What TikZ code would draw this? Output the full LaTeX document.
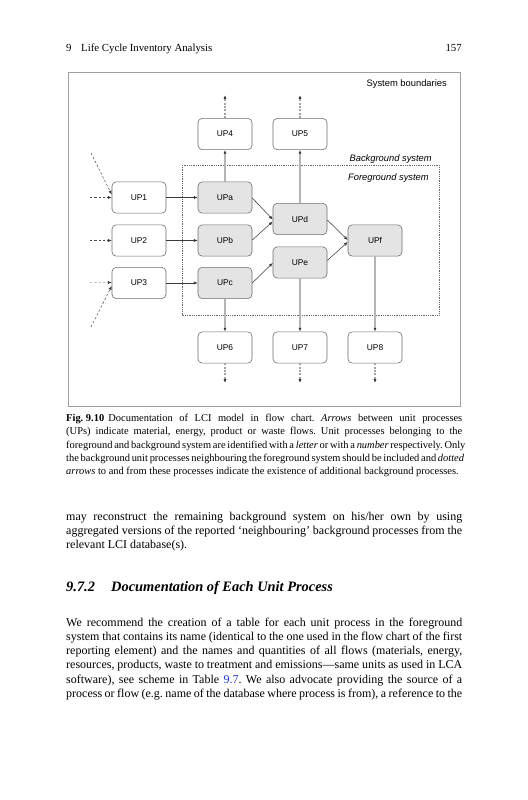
\documentclass[tikz,border=0pt]{standalone}
\usepackage{fontspec}
\setmainfont{Liberation Serif}
\newfontfamily\dsans{Liberation Sans}
\usetikzlibrary{arrows.meta,calc}
\definecolor{frameg}{HTML}{A0A0A0}
\definecolor{boxline}{HTML}{6E6E6E}
\definecolor{fgfill}{HTML}{E4E4E4}
\definecolor{arrdark}{HTML}{3A3A3A}
\definecolor{vgray}{HTML}{B5B5B5}
\definecolor{linkblue}{RGB}{30,50,230}
\tikzset{
  ubox/.style={draw=boxline, line width=0.5pt, rounded corners=3.5pt, fill=white,
    minimum width=45pt, minimum height=26pt, inner sep=0pt,
    font=\dsans\fontsize{7}{8}\selectfont, text=black},
  fgbox/.style={ubox, fill=fgfill},
  tipd/.style={-{Latex[length=3.2pt,width=2.6pt,color=arrdark]}},
  flow/.style={tipd, draw=arrdark, line width=0.45pt},
  vline/.style={tipd, draw=vgray, line width=1pt},
  dotarr/.style={tipd, draw=vgray!90!black, line width=0.9pt, dash pattern=on 1.6pt off 1.2pt},
  ldash/.style={tipd, draw=black!70, line width=0.4pt, dash pattern=on 2pt off 1.6pt},
  lbl/.style={font=\dsans\fontsize{7.8}{9}\selectfont, inner sep=0pt, text=black},
  txt/.style={anchor=base west, inner sep=0pt},
}
\newcommand{\jline}[1]{\makebox[330pt][s]{#1}}
\begin{document}
\frenchspacing
\begin{tikzpicture}[x=0.8333pt,y=-0.8333pt]
\useasboundingbox (0,0) rectangle (527,800);
\fill[white] (0,0) rectangle (527,800);

% header
\node[txt, font=\fontsize{9}{11}\selectfont] (h9) at (66,51) {9};
\node[txt, font=\fontsize{9}{11}\selectfont] (htitle) at (81,51) {Life Cycle Inventory Analysis};
\node[anchor=base east, inner sep=0pt, font=\fontsize{9}{11}\selectfont] (hpage) at (462,51) {157};

% frame
\draw[frameg, line width=0.8pt] (68,72) rectangle (460,406);
\node[lbl, anchor=east] (sysb) at (447,84) {System boundaries};
\node[lbl, anchor=east] (bgs) at (432,159) {\itshape Background system};
\draw[black!60, line width=0.5pt, densely dotted] (182,165) rectangle (439,315);
\node[lbl, anchor=east] (fgs) at (429,178) {\itshape Foreground system};

% boxes
\node[ubox] (UP4) at (225,134) {UP4};
\node[ubox] (UP5) at (300,134) {UP5};
\node[ubox] (UP1) at (139,197.5) {UP1};
\node[fgbox] (UPa) at (225,197.5) {UPa};
\node[fgbox] (UPd) at (300,219) {UPd};
\node[ubox] (UP2) at (139,240.5) {UP2};
\node[fgbox] (UPb) at (225,240.5) {UPb};
\node[fgbox] (UPf) at (375,240.5) {UPf};
\node[fgbox] (UPe) at (300,262.5) {UPe};
\node[ubox] (UP3) at (139,283) {UP3};
\node[fgbox] (UPc) at (225,283) {UPc};
\node[ubox] (UP6) at (225,347.5) {UP6};
\node[ubox] (UP7) at (300,347.5) {UP7};
\node[ubox] (UP8) at (375,347.5) {UP8};

% flows
\draw[flow] (UP1) -- (UPa);
\draw[flow] (UP2) -- (UPb);
\draw[flow] (UP3) -- (UPc);
\draw[flow] ($(UPa.east)+(0,0.5)$) -- ($(UPd.west)+(0,0.5)$);
\draw[flow] ($(UPb.east)+(0,-0.5)$) -- ($(UPd.west)+(0,2.5)$);
\draw[flow] ($(UPc.east)+(0,0)$) -- ($(UPe.west)+(0,0.5)$);
\draw[flow] ($(UPd.east)+(0,1)$) -- ($(UPf.west)+(0,-0.5)$);
\draw[flow] ($(UPe.east)+(0,-2)$) -- ($(UPf.west)+(0,1.5)$);

% vertical links
\draw[vline] (UPa.north) -- (UP4.south);
\draw[vline] (UPd.north) -- (UP5.south);
\draw[vline] (UPc.south) -- (UP6.north);
\draw[vline] (UPe.south) -- (UP7.north);
\draw[vline] (UPf.south) -- (UP8.north);

% dotted continuations
\coordinate (t4) at (225,95);
\coordinate (t5) at (300,95);
\coordinate (b6) at (225,383);
\coordinate (b7) at (300,383);
\coordinate (b8) at (375,383);
\draw[dotarr] (UP4.north) -- (t4);
\draw[dotarr] (UP5.north) -- (t5);
\draw[dotarr] (UP6.south) -- (b6);
\draw[dotarr] (UP7.south) -- (b7);
\draw[dotarr] (UP8.south) -- (b8);

% left inputs
\coordinate (l1d) at (91,153);
\coordinate (l1h) at (90,197.5);
\coordinate (l2h) at (90,240.5);
\coordinate (l3h) at (90,282.5);
\coordinate (l3d) at (91,327);
\draw[ldash] (l1d) -- ($(UP1.west)+(0,-3)$);
\draw[ldash] (l1h) -- (UP1.west);
\draw[ldash] (l2h) -- (UP2.west);
\draw[ldash] (l3h) -- ($(UP3.west)+(0,-0.5)$);
\draw[ldash] (l3d) -- ($(UP3.west)+(0,3)$);

% caption
\begin{scope}[font=\fontsize{8.7}{11}\selectfont]
\node[txt] (c1) at (66,421.5) {\jline{\textbf{Fig.\hspace{2.2pt}9.10}\hspace{3.5pt}Documentation of LCI model in flow chart. \textit{Arrows} between unit processes}};
\node[txt] (c2) at (66,434.8) {\jline{(UPs) indicate material, energy, product or waste flows. Unit processes belonging to the}};
\node[txt] (c3) at (66,448.1) {\jline{foreground and background system are identified with a \textit{letter} or with a \textit{number} respectively. Only}};
\node[txt] (c4) at (66,461.4) {\jline{the background unit processes neighbouring the foreground system should be included and \textit{dotted}}};
\node[txt] (c5) at (66,474.7) {\textit{arrows} to and from these processes indicate the existence of additional background processes.};
\end{scope}

% body text
\begin{scope}[font=\fontsize{10}{12}\selectfont]
\node[txt] (p1) at (66,520) {\jline{may reconstruct the remaining background system on his/her own by using}};
\node[txt] (p2) at (66,534.3) {\jline{aggregated versions of the reported ‘neighbouring’ background processes from the}};
\node[txt] (p3) at (66,548.6) {relevant LCI database(s).};

\node[txt] (q1) at (66,626) {\jline{We recommend the creation of a table for each unit process in the foreground}};
\node[txt] (q2) at (66,640.3) {\jline{system that contains its name (identical to the one used in the flow chart of the first}};
\node[txt] (q3) at (66,654.6) {\jline{reporting element) and the names and quantities of all flows (materials, energy,}};
\node[txt] (q4) at (66,668.9) {\jline{resources, products, waste to treatment and emissions—same units as used in LCA}};
\node[txt] (q5) at (66,683.2) {\jline{software), see scheme in Table \textcolor{linkblue}{9.7}. We also advocate providing the source of a}};
\node[txt] (q6) at (66,697.5) {\jline{process or flow (e.g. name of the database where process is from), a reference to the}};
\end{scope}

% heading
\node[txt, font=\fontsize{12}{14}\selectfont\bfseries\itshape] (hnum) at (66,591) {9.7.2};
\node[txt, font=\fontsize{12}{14}\selectfont\bfseries\itshape] (htxt) at (111,591) {Documentation of Each Unit Process};
\end{tikzpicture}
\end{document}
